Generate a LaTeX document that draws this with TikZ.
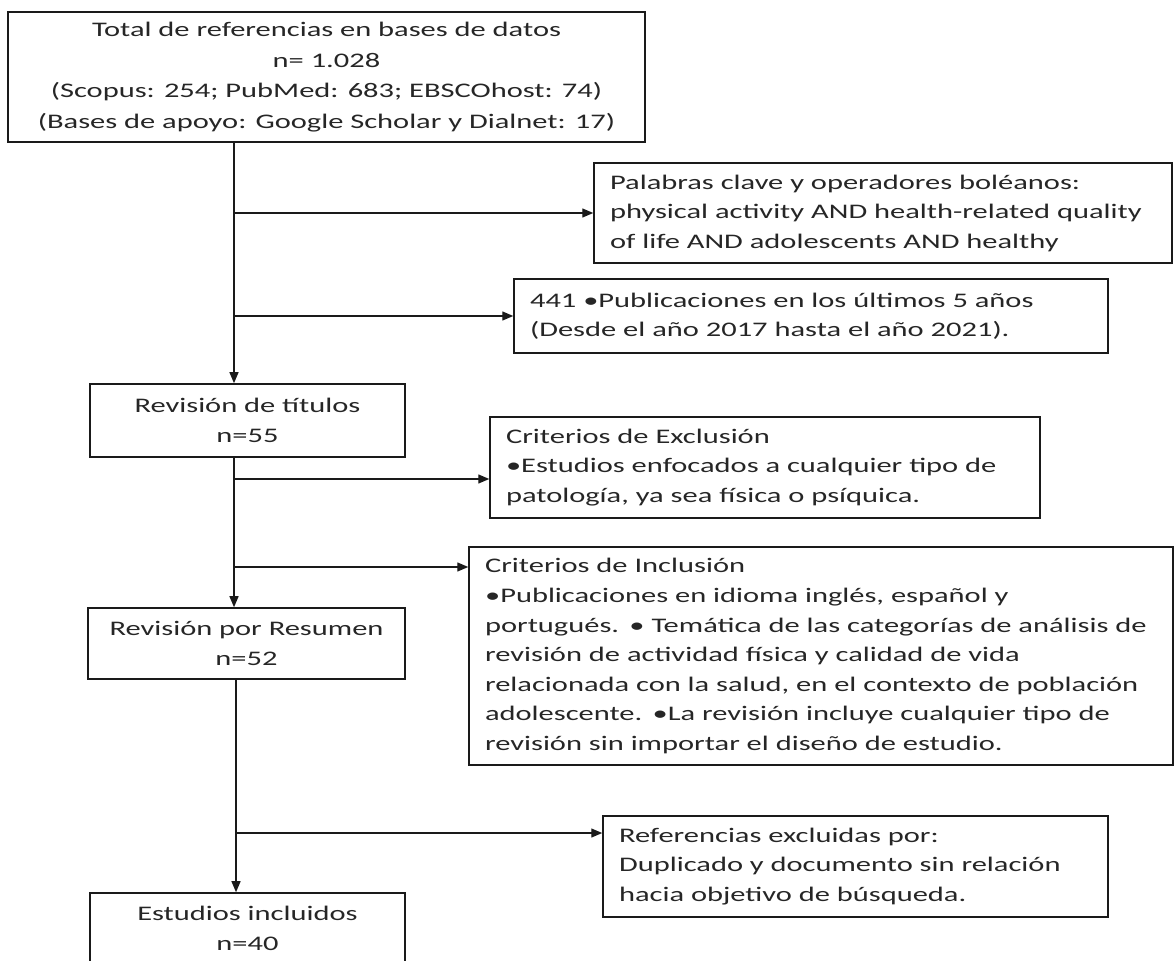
\documentclass[tikz,border=0pt]{standalone}
\usepackage{fontspec}
\setmainfont{Carlito}[FakeStretch=1.47]
\usetikzlibrary{arrows.meta,calc}
\definecolor{txt}{HTML}{262626}
\definecolor{ln}{HTML}{1A1A1A}
\tikzset{
  box/.style={draw=ln, line width=0.9pt, inner sep=0pt, text=txt,
    font=\fontsize{11.8pt}{16.8pt}\selectfont},
  cbox/.style={box, align=center},
  lbox/.style={box, align=left, inner xsep=0.32cm},
  conn/.style={draw=ln, line width=0.75pt},
  arr/.style={conn, -{Triangle[length=0.22cm,width=0.18cm]}}
}
\begin{document}
\begin{tikzpicture}[x=0.02cm,y=-0.02cm]
\useasboundingbox (0,0) rectangle (1175,960);
\node[cbox, minimum width=12.74cm, minimum height=2.6cm,
  font=\fontsize{11.8pt}{17.5pt}\selectfont] (total) at (326.5,77)
  {Total de referencias en bases de datos\\ n= 1.028\\ (Scopus: 254; PubMed: 683; EBSCOhost: 74)\\ (Bases de apoyo: Google Scholar y Dialnet: 17)};
\node[lbox, minimum width=11.56cm, minimum height=2.0cm, text width=10.92cm] (palabras) at (883,213)
  {Palabras clave y operadores boléanos:\\ physical activity AND health-related quality\\ of life AND adolescents AND healthy};
\node[lbox, minimum width=11.88cm, minimum height=1.48cm, text width=11.24cm] (anos) at (811,316)
  {441 •Publicaciones en los últimos 5 años\\ (Desde el año 2017 hasta el año 2021).};
\node[cbox, minimum width=6.3cm, minimum height=1.46cm] (titulos) at (247.5,420.5)
  {Revisión de títulos\\ n=55};
\node[lbox, minimum width=11.0cm, minimum height=2.02cm, text width=10.36cm] (excl) at (765,467.5)
  {Criterios de Exclusión\\ •Estudios enfocados a cualquier tipo de\\ patología, ya sea física o psíquica.};
\node[lbox, minimum width=14.08cm, minimum height=4.36cm, text width=13.44cm] (incl) at (821,656)
  {Criterios de Inclusión\\ •Publicaciones en idioma inglés, español y\\ portugués. • Temática de las categorías de análisis de\\ revisión de actividad física y calidad de vida\\ relacionada con la salud, en el contexto de población\\ adolescente. •La revisión incluye cualquier tipo de\\ revisión sin importar el diseño de estudio.};
\node[cbox, minimum width=6.34cm, minimum height=1.42cm] (resumen) at (246.5,643.5)
  {Revisión por Resumen\\ n=52};
\node[lbox, minimum width=10.1cm, minimum height=2.02cm, text width=9.46cm] (refs) at (855.5,866.5)
  {Referencias excluidas por:\\ Duplicado y documento sin relación\\ hacia objetivo de búsqueda.};
\node[cbox, minimum width=6.3cm, minimum height=1.42cm] (estudios) at (247.5,928.5)
  {Estudios incluidos\\ n=40};
% trunks
\coordinate (tx) at (234,0);
\coordinate (lx) at (236,0);
\coordinate (b2) at (234,479);
\coordinate (b3) at (234,567);
\coordinate (b4) at (236,833);
\draw[arr] (tx |- total.south) -- (tx |- titulos.north);
\draw[arr] (tx |- palabras.west) -- (palabras.west);
\draw[arr] (tx |- anos.west) -- (anos.west);
\draw[arr] (tx |- titulos.south) -- (tx |- resumen.north);
\draw[arr] (b2) -- (b2 -| excl.west);
\draw[arr] (b3) -- (b3 -| incl.west);
\draw[arr] (lx |- resumen.south) -- (lx |- estudios.north);
\draw[arr] (b4) -- (b4 -| refs.west);
\end{tikzpicture}
\end{document}
